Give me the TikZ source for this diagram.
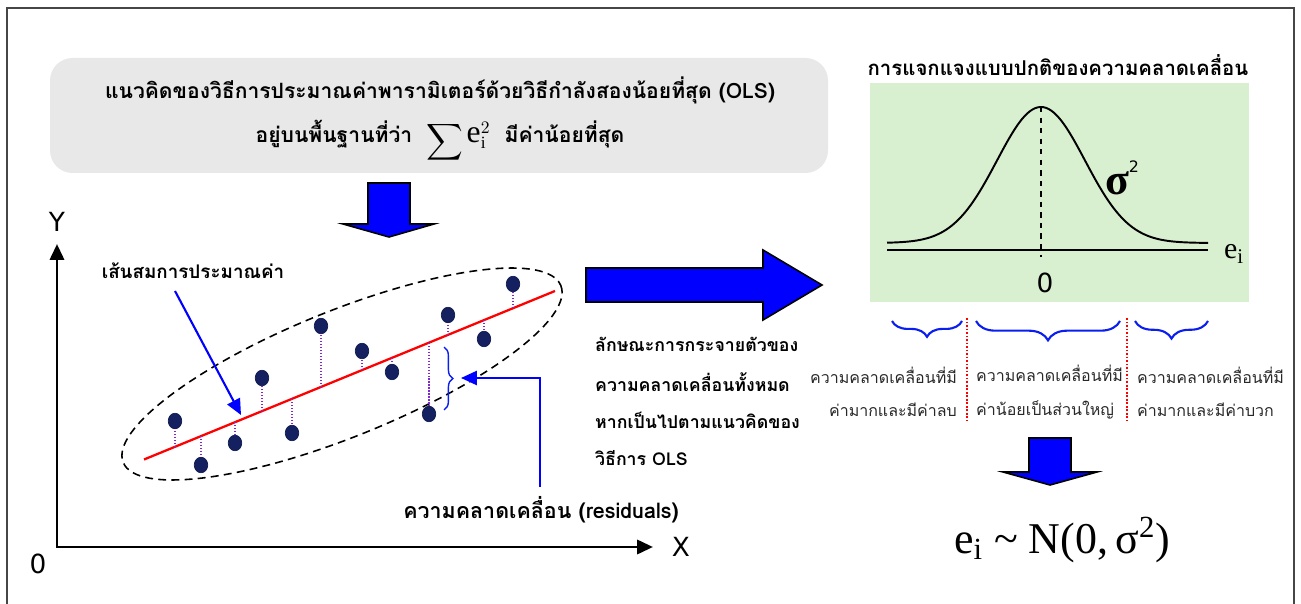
\documentclass[tikz,border=0pt]{standalone}
\usepackage{graphicx}
\usepackage{fontspec}
\setmainfont{Liberation Serif}
\setsansfont{DejaVu Sans}
\newfontfamily\thai[Script=Thai]{Loma}
\usetikzlibrary{arrows.meta,decorations.pathreplacing,shapes.geometric,positioning}

\definecolor{arrowblue}{RGB}{0,0,255}
\definecolor{bracecol}{RGB}{10,30,240}
\definecolor{dotnavy}{RGB}{20,32,96}
\definecolor{resviolet}{RGB}{130,40,210}
\definecolor{boxgray}{RGB}{232,232,232}
\definecolor{bellgreen}{RGB}{217,240,208}
\definecolor{framecol}{RGB}{70,70,70}
\definecolor{smalltext}{RGB}{40,40,40}

\begin{document}
\begin{tikzpicture}[x=0.02cm,y=-0.02cm,
  thaib/.style={font=\thai\bfseries\fontsize{#1}{#1}\selectfont},
  thair/.style={font=\thai\fontsize{#1}{#1}\selectfont},
  axislbl/.style={font=\sffamily\fontsize{15}{15}\selectfont},
  datapt/.style={ellipse,fill=dotnavy,draw=dotnavy!80!black,inner sep=0pt,minimum width=0.27cm,minimum height=0.31cm},
  residual/.style={resviolet,densely dotted,line width=0.7pt},
  bluearrow/.style={arrowblue,line width=1.2pt,-{Triangle[length=9pt,width=8pt]}},
  blockarrow/.style={fill=arrowblue,draw=black,line width=0.9pt,line join=miter},
  bracedown/.style={bracecol,line width=1.2pt,decorate,decoration={brace,mirror,amplitude=#1}},
  sepline/.style={red,densely dotted,line width=1pt}]
\useasboundingbox (0,0) rectangle (1301,604);

% cadre
\draw[framecol,line width=1.1pt] (7,604) -- (7,8) -- (1294,8) -- (1294,604);

% encadre du haut
\fill[boxgray,rounded corners=0.45cm] (50,58) rectangle (828,173);
\node[thaib=12,align=center] (olsText) at (440,120)
  {แนวคิดของวิธีการประมาณค่าพารามิเตอร์ด้วยวิธีกำลังสองน้อยที่สุด (OLS)\\[8pt]
   อยู่บนพื้นฐานที่ว่า \ \raisebox{-0.7ex}{\scalebox{1.45}{$\displaystyle\sum$}}\,{\fontsize{18}{18}\selectfont\rmfamily\mdseries e}{\fontsize{14}{14}\selectfont$_{\mathrm{i}}^{2}$}\ \ มีค่าน้อยที่สุด};
\draw[blockarrow] (368,183) -- (410,183) -- (410,224) -- (434,224) -- (389,237) -- (343,224) -- (368,224) -- cycle;

% les axes
\coordinate (origin) at (57,547);
\coordinate (ytop) at (57,244);
\coordinate (xend) at (653,547);
\draw[line width=1.7pt,{Triangle[length=9pt,width=8pt]}-{Triangle[length=9pt,width=8pt]}] (ytop) -- (origin) -- (xend);
\node[axislbl] (ylbl) at (57,222) {Y};
\node[axislbl] (xlbl) at (681,547) {X};
\node[axislbl] (olbl) at (38,564) {0};

% nuage de points
\draw[black,line width=0.9pt,dash pattern=on 4.5pt off 3pt,rotate around={22:(342,374)}]
  (342,374) ellipse [x radius=236,y radius=63];
\coordinate (fitA) at (144,459.5);
\coordinate (fitB) at (555,291);
\draw[red,line width=1.3pt] (fitA) -- (fitB);
\foreach \xx/\yy [count=\n] in {175/421,201/465,235/443,262/378,292/433,321/326,
                                 362/351,392/372,429/414,448/315,484/339,513/284}{
  \coordinate (r\n) at (\xx,{459.5-0.41*(\xx-144)});
  \draw[residual] (r\n) -- (\xx,\yy);
  \node[datapt] (p\n) at (\xx,\yy) {};
}

% droite estimee
\node[thaib=10.7] (fitLbl) at (193,271) {เส้นสมการประมาณค่า};
\coordinate (fitTail) at (175,291);
\coordinate (fitTip) at (241,415);
\draw[bluearrow] (fitTail) -- (fitTip);

% residus
\draw[bracecol,line width=0.8pt,decorate,decoration={brace,amplitude=5pt}] (444,347) -- (444,410);
\coordinate (resTail) at (540,487);
\coordinate (resTip) at (461,378);
\draw[bluearrow] (resTail) |- (resTip);
\node[thaib=12.2] (resLbl) at (541,510) {ความคลาดเคลื่อน (residuals)};

% grande fleche
\draw[blockarrow] (586,268) -- (763,268) -- (763,250) -- (822,285) -- (763,320) -- (763,302) -- (586,302) -- cycle;
\node[thaib=10.1,align=left,anchor=west] (olsNote) at (589,401)
  {ลักษณะการกระจายตัวของ\\[11pt]ความคลาดเคลื่อนทั้งหมด\\[11pt]หากเป็นไปตามแนวคิดของ\\[11pt]วิธีการ OLS};

% loi normale
\node[thaib=11.6] (normTitle) at (1058,65) {การแจกแจงแบบปกติของความคลาดเคลื่อน};
\fill[bellgreen] (870,83) rectangle (1249,302);
\draw[line width=1.1pt] (887,250) -- (1208,250);
\draw[line width=1.1pt] plot[domain=887:1208,samples=120,smooth] (\x,{243-136*exp(-0.5*((\x-1041)/44)^2)});
\draw[line width=1.1pt,dashed] (1041,107) -- (1041,257);
\node[axislbl] (zeroLbl) at (1045,283) {0};
\node[font=\fontsize{25}{25}\selectfont\bfseries,inner sep=0pt] (sigLbl) at (1122,178) {σ\raisebox{1.1ex}{\sffamily\mdseries\fontsize{9}{9}\selectfont 2}};
\node[font=\fontsize{17}{17}\selectfont] (eLbl) at (1234,254) {e\textsubscript{i}};

% accolades
\draw[bracedown=9pt] (892,321) -- (962,321);
\draw[bracedown=11pt] (976,321) -- (1120,321);
\draw[bracedown=10pt] (1135,321) -- (1208,321);
\draw[sepline] (967,318) -- (967,420);
\draw[sepline] (1127,318) -- (1127,420);
\node[thair=9.1,smalltext,align=right,anchor=east] (negTxt) at (963,392) {ความคลาดเคลื่อนที่มี\\[10pt]ค่ามากและมีค่าลบ};
\node[thair=9.1,smalltext,align=left,anchor=west] (midTxt) at (970,392) {ความคลาดเคลื่อนที่มี\\[10pt]ค่าน้อยเป็นส่วนใหญ่};
\node[thair=9.1,smalltext,align=left,anchor=west] (posTxt) at (1131,392) {ความคลาดเคลื่อนที่มี\\[10pt]ค่ามากและมีค่าบวก};

% resultat
\draw[blockarrow] (1029,438) -- (1071,438) -- (1071,472) -- (1097,472) -- (1050,485) -- (1003,472) -- (1029,472) -- cycle;
\node[font=\fontsize{25}{25}\selectfont] (resultEq) at (1062,540) {e\textsubscript{i} \char`\~{} N(0,\,σ\textsuperscript{2})};
\end{tikzpicture}
\end{document}
